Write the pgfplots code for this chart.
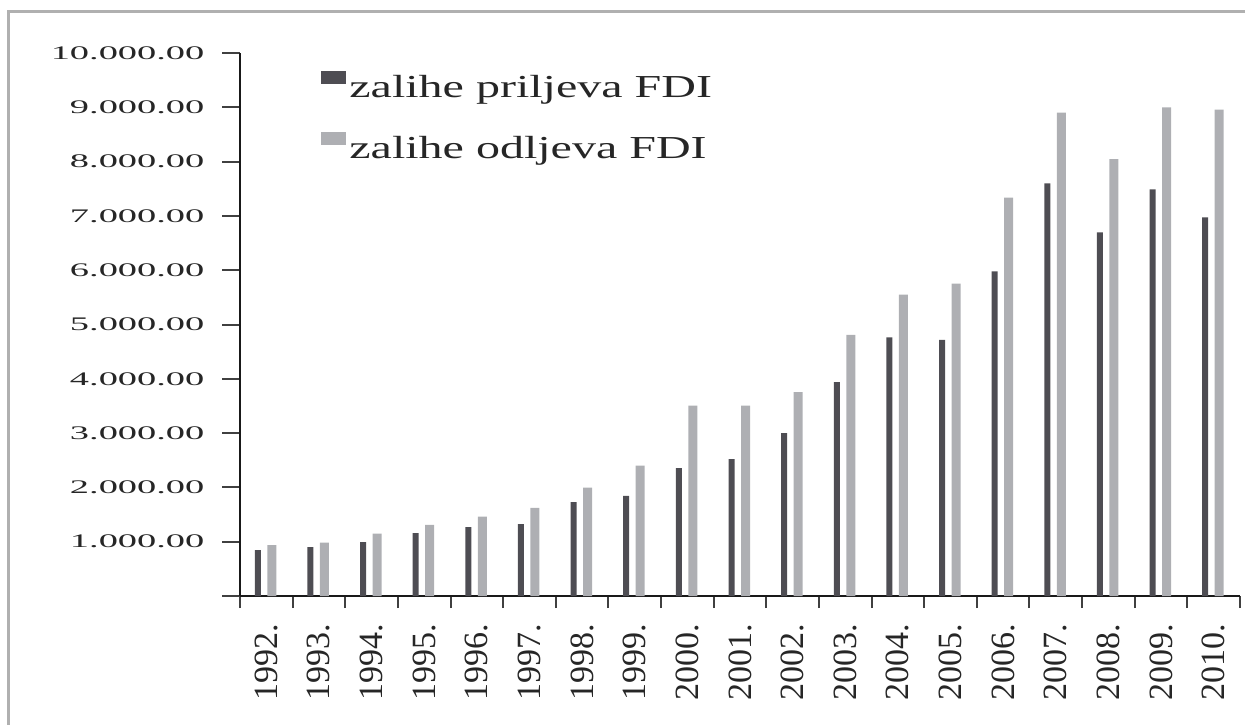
\documentclass[border=0pt]{standalone}
\usepackage{pgfplots}
\pgfplotsset{compat=1.18}
\usepackage{fontspec}
\setmainfont{Liberation Serif}
\newfontfamily\ytickfont{Liberation Serif}[FakeStretch=2.0]
\newfontfamily\legfont{Liberation Serif}[FakeStretch=1.5]
\definecolor{darkbar}{HTML}{4E4D53}
\definecolor{lightbar}{HTML}{AEAFB3}
\definecolor{framegray}{HTML}{B0B0B0}
\definecolor{txt}{HTML}{262626}
\begin{document}
\begin{tikzpicture}
\useasboundingbox (0,0) rectangle (622.5pt,-362pt);
\draw[framegray, line width=1.3pt] (4.3pt,-400pt) -- (4.3pt,-5.6pt) -- (700pt,-5.6pt);
\begin{axis}[
  at={(120pt,-298pt)}, anchor=south west,
  scale only axis, width=500pt, height=271.5pt,
  xmin=-0.5, xmax=18.5, ymin=0, ymax=10000,
  axis x line=bottom, axis y line=left,
  axis line style={line width=1.2pt, color=black!90, -},
  tick align=outside,
  scaled y ticks=false,
  xtick={-0.5,0.5,...,18.5},
  x tick label as interval,
  xticklabels={1992.,1993.,1994.,1995.,1996.,1997.,1998.,1999.,2000.,2001.,2002.,2003.,2004.,2005.,2006.,2007.,2008.,2009.,2010.},
  xticklabel shift=6pt,
  xticklabel style={rotate=90, anchor=east, font=\fontsize{17}{20}\selectfont, text=txt},
  xtick style={line width=1pt, color=black!75, /pgfplots/major tick length=6pt},
  ytick={0,1000,...,10000},
  yticklabels={,1.000.00,2.000.00,3.000.00,4.000.00,5.000.00,6.000.00,7.000.00,8.000.00,9.000.00,10.000.00},
  yticklabel style={anchor=east, xshift=-10pt, font=\fontsize{9.6}{11}\ytickfont, text=txt},
  ytick style={line width=1pt, color=black!75, /pgfplots/major tick length=9pt},
  /pgf/number format/assume math mode=true,
  legend style={at={(0.081,0.88)}, anchor=west, draw=none, fill=none, inner sep=0pt,
    font=\fontsize{16}{19}\legfont, text=txt, row sep=13.75pt,
    nodes={inner sep=0pt, text height=11pt, text depth=3.5pt}},
  legend cell align=left,
]
\addplot[ybar, bar width=3pt, bar shift=-4.25pt, fill=darkbar, draw=none,
  legend image code/.code={\fill[darkbar] (0pt,2.9pt) rectangle (12.5pt,9.4pt); \path (14pt,0pt);}]
coordinates {(0,847) (1,902) (2,994) (3,1160) (4,1271) (5,1326) (6,1731) (7,1842) (8,2357) (9,2523) (10,3002) (11,3941) (12,4764) (13,4715) (14,5980) (15,7600) (16,6698) (17,7490) (18,6974)};
\addlegendentry{zalihe priljeva FDI}
\addplot[ybar, bar width=4.5pt, bar shift=2.75pt, fill=lightbar, draw=none,
  legend image code/.code={\fill[lightbar] (0pt,2.9pt) rectangle (12.5pt,9.4pt); \path (14pt,0pt);}]
coordinates {(0,939) (1,982) (2,1148) (3,1308) (4,1461) (5,1621) (6,1995) (7,2400) (8,3505) (9,3505) (10,3757) (11,4807) (12,5549) (13,5752) (14,7335) (15,8900) (16,8048) (17,9000) (18,8956)};
\addlegendentry{zalihe odljeva FDI}
\end{axis}
\end{tikzpicture}
\end{document}
